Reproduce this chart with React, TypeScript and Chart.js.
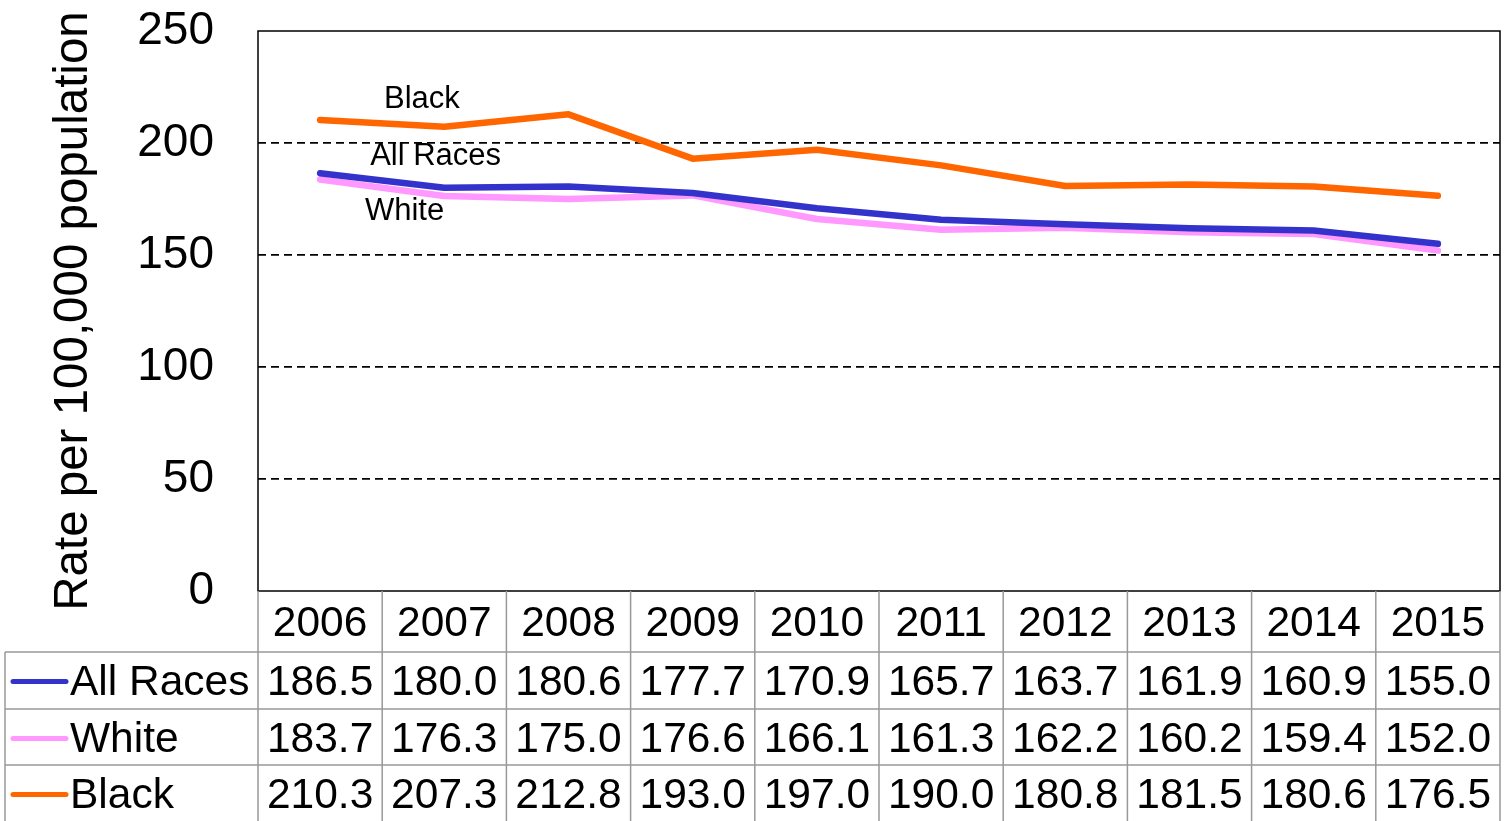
import React, { useEffect, useRef } from "react";
import { Chart, registerables } from "chart.js";

Chart.register(...registerables);

const years = ["2006", "2007", "2008", "2009", "2010", "2011", "2012", "2013", "2014", "2015"];
const allRaces = [186.5, 180.0, 180.6, 177.7, 170.9, 165.7, 163.7, 161.9, 160.9, 155.0];
const white = [183.7, 176.3, 175.0, 176.6, 166.1, 161.3, 162.2, 160.2, 159.4, 152.0];
const black = [210.3, 207.3, 212.8, 193.0, 197.0, 190.0, 180.8, 181.5, 180.6, 176.5];
const seriesNames = ["All Races", "White", "Black"];
const seriesColors = ["#3333CC", "#FF99FF", "#FF6600"];
const yTitle = "Rate per 100,000 population";
// in-plot labels: [text, category index position, value position]
const inlineLabels: [string, number, number][] = [
  ["Black", 0.82, 219.6],
  ["All Races", 0.93, 193.8],
  ["White", 0.68, 169.6],
];

const FONT = '"Liberation Sans", Arial, sans-serif';

const tablePlugin = {
  id: "tablePlugin",
  afterDraw(chart: any) {
    const ctx = chart.ctx;
    const area = chart.chartArea;
    const xs = chart.scales.x;
    const ys = chart.scales.y;
    const colW = (area.right - area.left) / years.length;
    ctx.save();

    // inline labels
    ctx.fillStyle = "#000";
    ctx.font = `31px ${FONT}`;
    ctx.textAlign = "center";
    ctx.textBaseline = "middle";
    inlineLabels.forEach(([t, xi, yv]) => {
      ctx.fillText(t, xs.getPixelForValue(xi), ys.getPixelForValue(yv));
    });

    // plot border
    ctx.strokeStyle = "#000";
    ctx.lineWidth = 1.5;
    ctx.strokeRect(area.left, area.top, area.right - area.left, area.bottom - area.top);

    // table
    const headerTop = area.bottom;
    const rowTops = [652, 709, 765];
    const rowH = 57;
    const tableBottom = 822;
    const labelLeft = 5;
    ctx.strokeStyle = "#999";
    ctx.lineWidth = 1.5;
    ctx.beginPath();
    for (let i = 0; i <= years.length; i++) {
      const x = area.left + i * colW;
      ctx.moveTo(x, headerTop);
      ctx.lineTo(x, tableBottom);
    }
    ctx.moveTo(labelLeft, rowTops[0]);
    ctx.lineTo(labelLeft, tableBottom);
    rowTops.forEach((y) => {
      ctx.moveTo(labelLeft, y);
      ctx.lineTo(area.right, y);
    });
    ctx.stroke();

    // header years
    ctx.fillStyle = "#000";
    ctx.font = `42.5px ${FONT}`;
    ctx.textAlign = "center";
    ctx.textBaseline = "middle";
    years.forEach((yr, i) => {
      ctx.fillText(yr, xs.getPixelForValue(i), (headerTop + rowTops[0]) / 2 + 3);
    });

    const seriesData = [allRaces, white, black];
    seriesData.forEach((vals, r) => {
      const cy = rowTops[r] + rowH / 2 + 3;
      ctx.strokeStyle = seriesColors[r];
      ctx.lineWidth = 5;
      ctx.lineCap = "round";
      ctx.beginPath();
      ctx.moveTo(13, cy - 2);
      ctx.lineTo(66, cy - 2);
      ctx.stroke();
      ctx.fillStyle = "#000";
      ctx.textAlign = "left";
      ctx.fillText(seriesNames[r], 70, cy);
      ctx.textAlign = "center";
      vals.forEach((v, i) => {
        ctx.fillText(v.toFixed(1), xs.getPixelForValue(i), cy);
      });
    });
    ctx.restore();
  },
};

export default function App() {
  const ref = useRef<HTMLCanvasElement | null>(null);
  useEffect(() => {
    if (!ref.current) return;
    const chart = new Chart(ref.current, {
      type: "line",
      data: {
        labels: years,
        datasets: [allRaces, white, black].map((d, i) => ({
          label: seriesNames[i],
          data: d,
          borderColor: seriesColors[i],
          backgroundColor: seriesColors[i],
          borderWidth: 6.5,
          borderCapStyle: "round" as const,
          borderJoinStyle: "round" as const,
          pointRadius: 0,
          tension: 0,
          fill: false,
        })),
      },
      options: {
        animation: false,
        responsive: false,
        devicePixelRatio: 1,
        layout: { padding: { top: 31, right: 5, left: 0, bottom: 0 } },
        plugins: { legend: { display: false }, tooltip: { enabled: false } },
        scales: {
          x: {
            type: "category",
            offset: true,
            grid: { display: false },
            border: { display: false },
            ticks: { display: false },
            afterFit: (s: any) => {
              s.height = 230;
              s.paddingLeft = 0;
              s.paddingRight = 0;
            },
          },
          y: {
            min: 0,
            max: 250,
            ticks: {
              stepSize: 50,
              color: "#000",
              font: { size: 46, family: FONT },
              padding: 44,
            },
            grid: {
              drawTicks: false,
              lineWidth: 1.8,
              color: (c: any) => (c.tick && (c.tick.value === 0 || c.tick.value === 250) ? "rgba(0,0,0,0)" : "#000"),
            },
            border: { display: false, dash: [8, 5] },
            title: {
              display: true,
              text: yTitle,
              color: "#000",
              font: { size: 47.5, family: FONT, lineHeight: 1.2 },
              padding: { top: 45, bottom: 0 },
            },
            afterFit: (s: any) => {
              s.width = 258;
              s.paddingTop = 0;
              s.paddingBottom = 0;
            },
          },
        },
      },
      plugins: [tablePlugin],
    } as any);
    return () => chart.destroy();
  }, []);
  return (
    <div style={{ position: "fixed", left: 0, top: 0, width: 1505, height: 821, background: "#fff" }}>
      <canvas ref={ref} width={1505} height={821} style={{ display: "block" }} />
    </div>
  );
}
